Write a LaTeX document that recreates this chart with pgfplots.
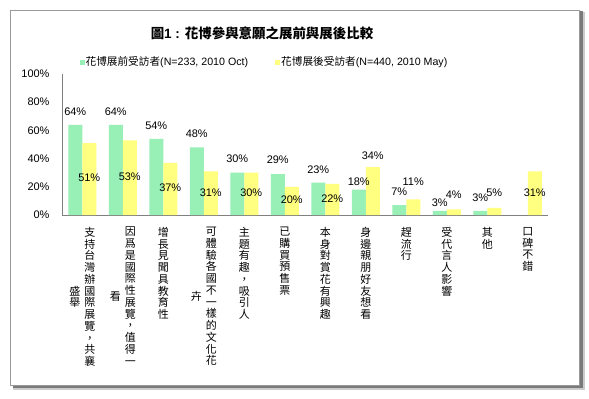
\documentclass[border=0pt]{standalone}
\usepackage{fontspec}
\setmainfont{Liberation Sans}
\newfontfamily\cjk{Noto Sans CJK TC}
\usepackage{pgfplots}
\pgfplotsset{compat=1.18}
\definecolor{barg}{RGB}{152,240,182}
\definecolor{bary}{RGB}{255,255,128}
\newcommand\vt[1]{{\def\\{\cr}$\vcenter{\baselineskip=11.75bp\lineskiplimit=-20bp\lineskip=0pt\halign{\hfil##\hfil\cr#1\crcr}}$}}
\begin{document}
\begin{tikzpicture}[x=1bp,y=1bp]
\path[fill=white] (0,0) rectangle (589,398);
\fill[black!20] (13,8) rectangle (585,386);
\fill[black!52] (13,10) rectangle (583,387);
\fill[white,draw=black!40,line width=0.8bp] (10,13) rectangle (579,388);
\node[font=\fontsize{13.5}{16}\selectfont\bfseries] at (262,365) {{\cjk 圖}1 : {\cjk 花博參與意願之展前與展後比較}};
\begin{axis}[
  at={(62bp,183bp)}, anchor=south west, scale only axis,
  width=486bp, height=141bp,
  xmin=-0.5, xmax=11.5, ymin=0, ymax=100,
  axis x line*=bottom, axis y line*=left,
  axis line style={draw=black!50,-},
  major tick length=0pt,
  ytick={0,20,40,60,80,100},
  yticklabels={0\%,20\%,40\%,60\%,80\%,100\%},
  yticklabel style={font=\fontsize{11}{13}\selectfont, xshift=-9bp},
  xtick={0,1,2,3,4,5,6,7,8,9,10,11},
  xticklabels={
    {\vt{盛\\舉}\hspace{4bp}\vt{支\\持\\台\\灣\\辦\\國\\際\\展\\覽\\，\\共\\襄}},
    {\vt{看}\hspace{4bp}\vt{因\\爲\\是\\國\\際\\性\\展\\覽\\，\\值\\得\\一}},
    {\vt{增\\長\\見\\聞\\具\\教\\育\\性}},
    {\vt{卉}\hspace{4bp}\vt{可\\體\\驗\\各\\國\\不\\一\\樣\\的\\文\\化\\花}},
    {\vt{主\\題\\有\\趣\\，\\吸\\引\\人}},
    {\vt{已\\購\\買\\預\\售\\票}},
    {\vt{本\\身\\對\\賞\\花\\有\\興\\趣}},
    {\vt{身\\邊\\親\\朋\\好\\友\\想\\看}},
    {\vt{趕\\流\\行}},
    {\vt{受\\代\\言\\人\\影\\響}},
    {\vt{其\\他}},
    {\vt{口\\碑\\不\\錯}}},
  xticklabel style={font=\cjk\fontsize{11}{11.75}\selectfont, anchor=north, inner sep=0pt, yshift=-12bp},
  /pgf/number format/assume math mode=true,
  legend style={at={(0.4156,1.085)}, anchor=center, draw=none, fill=none,
    inner sep=0pt, font=\fontsize{10.7}{13}\selectfont,
    nodes={inner sep=1bp},
    /tikz/every even column/.append style={column sep=26bp}},
  legend columns=2,
  legend image code/.code={\fill[#1] (0bp,-2.5bp) rectangle (5bp,2.5bp);},
  lbl/.style={draw=none, mark=none, forget plot, point meta=explicit,
    nodes near coords={\pgfmathprintnumber{\pgfplotspointmeta}\%},
    every node near coord/.append style={font=\fontsize{11}{13}\selectfont, text=black, anchor=center, inner sep=0pt, xshift=#1}},
]
\addplot[ybar, bar width=14bp, bar shift=-7bp, fill=barg, draw=none]
  coordinates {(0,64) (1,64) (2,54) (3,48) (4,30) (5,29) (6,23) (7,18) (8,7) (9,3) (10,3)};
\addlegendentry{{\cjk 花博展前受訪者}(N=233, 2010 Oct)}
\addplot[ybar, bar width=14bp, bar shift=7bp, fill=bary, draw=none]
  coordinates {(0,51) (1,53) (2,37) (3,31) (4,30) (5,20) (6,22) (7,34) (8,11) (9,4) (10,5) (11,31)};
\addlegendentry{{\cjk 花博展後受訪者}(N=440, 2010 May)}
% labels of the first series
\addplot[lbl=-7bp]
  coordinates {(0,73.0) [64] (1,73.3) [64] (2,63.4) [54] (3,57.4) [48] (4,39.7) [30] (5,39.0) [29]
               (6,32.4) [23] (7,23.4) [18] (8,16.3) [7] (9,8.5) [3] (10,12.1) [3]};
% labels of the second series
\addplot[lbl=7bp]
  coordinates {(0,26.2) [51] (1,27.0) [53] (2,19.1) [37] (3,15.6) [31] (4,15.6) [30] (5,10.6) [20]
               (6,11.3) [22] (7,41.8) [34] (8,23.4) [11] (9,14.2) [4] (10,15.6) [5] (11,15.6) [31]};
\end{axis}
\end{tikzpicture}
\end{document}
